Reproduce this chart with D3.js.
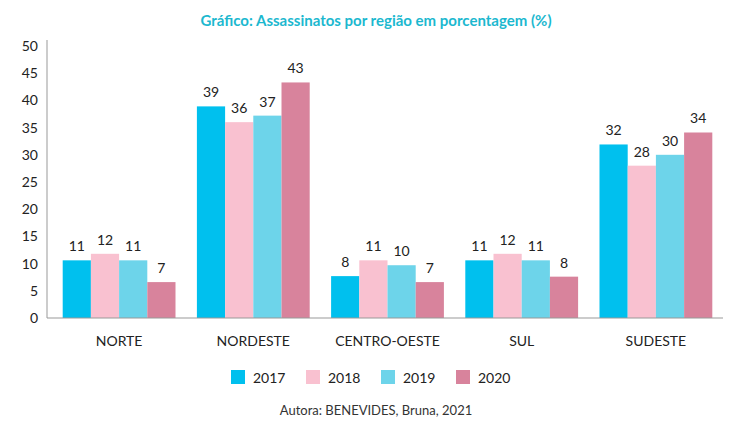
<!DOCTYPE html>
<html><head><meta charset="utf-8">
<script src="https://cdn.jsdelivr.net/npm/d3@7"></script>
<style>body{margin:0;background:#fff;font-family:Lato,sans-serif}</style>
</head><body><svg id="c" width="753" height="432"></svg>
<script>
const categories=["NORTE","NORDESTE","CENTRO-OESTE","SUL","SUDESTE"];
const years=["2017","2018","2019","2020"];
const values2017=[10.6,38.9,7.7,10.6,31.9];
const values2018=[11.8,36.0,10.6,11.8,28.0];
const values2019=[10.6,37.2,9.7,10.6,30.0];
const values2020=[6.6,43.3,6.6,7.6,34.1];
const labels2017=[11,39,8,11,32];
const labels2018=[12,36,11,12,28];
const labels2019=[11,37,10,11,30];
const labels2020=[7,43,7,8,34];
const yTicks=[0,5,10,15,20,25,30,35,40,45,50];
const colors=["#00c0ee","#f9c1d0","#6dd4ea","#d8839c"];
const series=[values2017,values2018,values2019,values2020];
const labs=[labels2017,labels2018,labels2019,labels2020];
const svg=d3.select("#c");
const L=47,R=718,T=46,B=318;
const x=d3.scaleBand().domain(categories).range([L+5,R+5]).padding(0);
const y=d3.scaleLinear().domain([0,50]).range([B,T]);
const bw=28.2;
svg.append("text").attr("x",376).attr("y",26).attr("text-anchor","middle").attr("fill","#1cb8cf").attr("font-size",15).attr("font-weight","bold").text("Gráfico: Assassinatos por região em porcentagem (%)");
svg.append("g").selectAll("text").data(yTicks).join("text").attr("x",38).attr("y",d=>y(d)+5).attr("text-anchor","end").attr("font-size",14).attr("fill","#222").text(d=>d);
series.forEach((s,i)=>{
  const g=svg.append("g");
  g.selectAll("rect").data(categories).join("rect")
   .attr("x",(c)=>x(c)+x.bandwidth()/2-2*bw+i*bw).attr("width",bw)
   .attr("y",(c,j)=>y(s[j])).attr("height",(c,j)=>B-y(s[j])).attr("fill",colors[i]);
  g.selectAll("text").data(categories).join("text")
   .attr("x",(c)=>x(c)+x.bandwidth()/2-2*bw+i*bw+bw/2).attr("y",(c,j)=>y(s[j])-9)
   .attr("text-anchor","middle").attr("font-size",14).attr("fill","#222").text((c,j)=>labs[i][j]);
});
svg.append("line").attr("x1",L).attr("x2",L).attr("y1",T-6).attr("y2",B).attr("stroke","#999");
svg.append("line").attr("x1",L).attr("x2",R+5).attr("y1",B).attr("y2",B).attr("stroke","#999");
svg.append("g").selectAll("text").data(categories).join("text").attr("x",c=>x(c)+x.bandwidth()/2).attr("y",346).attr("text-anchor","middle").attr("font-size",14).attr("fill","#222").text(d=>d);
const lx=[231,306,381,456];
years.forEach((yr,i)=>{
  svg.append("rect").attr("x",lx[i]).attr("y",370).attr("width",14).attr("height",14).attr("fill",colors[i]);
  svg.append("text").attr("x",lx[i]+22).attr("y",383).attr("font-size",14).attr("fill","#222").text(yr);
});
svg.append("text").attr("x",376).attr("y",415).attr("text-anchor","middle").attr("font-size",13).attr("fill","#333").text("Autora: BENEVIDES, Bruna, 2021");
</script></body></html>
